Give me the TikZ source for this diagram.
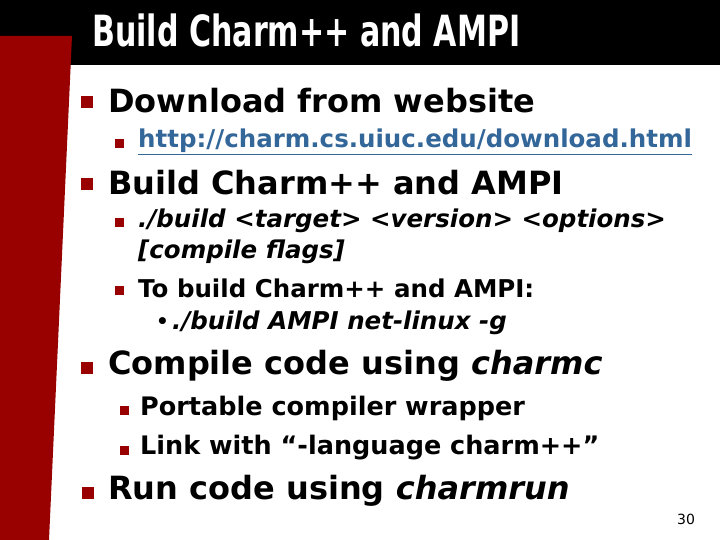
\documentclass[tikz,border=0pt]{standalone}
\usepackage{fontspec}
\setmainfont{DejaVu Sans}
\definecolor{dred}{HTML}{990000}
\definecolor{lnk}{HTML}{336699}
\begin{document}
\begin{tikzpicture}[x=1pt,y=-1pt,
  lone/.style={anchor=west,inner sep=0pt,font=\bfseries\fontsize{32}{36}\selectfont},
  ltwo/.style={anchor=west,inner sep=0pt,font=\bfseries\fontsize{24.5}{28}\selectfont},
  bone/.style={fill=dred,minimum size=12pt,inner sep=0pt},
  btwo/.style={fill=dred,minimum size=9pt,inner sep=0pt}]
\useasboundingbox (0,0) rectangle (720,540);
\fill[white] (0,0) rectangle (720,540);
\fill[black] (0,0) rectangle (720,65);
\fill[dred] (0,36) -- (72,36) -- (49,540) -- (0,540) -- cycle;
\node[anchor=west,inner sep=0pt,text=white] (title) at (92,30) {\scalebox{0.70}[1]{\bfseries\fontsize{43}{46}\selectfont Build Charm++ and AMPI}};
\node[bone] (b1) at (87,102) {}; \node[lone] (t1) at (108,101) {Download from website};
\node[btwo] (b2) at (119,144) {}; \node[ltwo,text=lnk] (t2) at (138,142) {\underline{http://charm.cs.uiuc.edu/download.html}};
\node[bone] (b3) at (87,184) {}; \node[lone] (t3) at (108,183) {Build Charm++ and AMPI};
\node[btwo] (b4) at (119,223) {}; \node[ltwo] (t4) at (138,221) {\itshape ./build <target> <version> <options>};
\node[ltwo] (t4b) at (138,252) {\itshape [compile flags]};
\node[btwo] (b5) at (119,290) {}; \node[ltwo] (t5) at (138,288) {To build Charm++ and AMPI:};
\node[ltwo,font=\fontsize{20}{22}\selectfont\bfseries] (b6) at (156,323) {•};
\node[ltwo] (t6) at (172,323) {\itshape ./build AMPI net-linux -g};
\node[bone] (b7) at (87,368) {}; \node[lone] (t7) at (108,366) {Compile code using \textit{charmc}};
\node[btwo] (b8) at (124,410) {}; \node[ltwo,font=\bfseries\fontsize{25.5}{28}\selectfont] (t8) at (140,408) {Portable compiler wrapper};
\node[btwo] (b9) at (124,450) {}; \node[ltwo,font=\bfseries\fontsize{25.5}{28}\selectfont] (t9) at (140,448) {Link with “-language charm++”};
\node[bone] (b10) at (88,493) {}; \node[lone] (t10) at (108,491) {Run code using \textit{charmrun}};
\node[anchor=center,inner sep=0pt,font=\fontsize{14}{16}\selectfont] (pg) at (686,519) {30};
\end{tikzpicture}
\end{document}
